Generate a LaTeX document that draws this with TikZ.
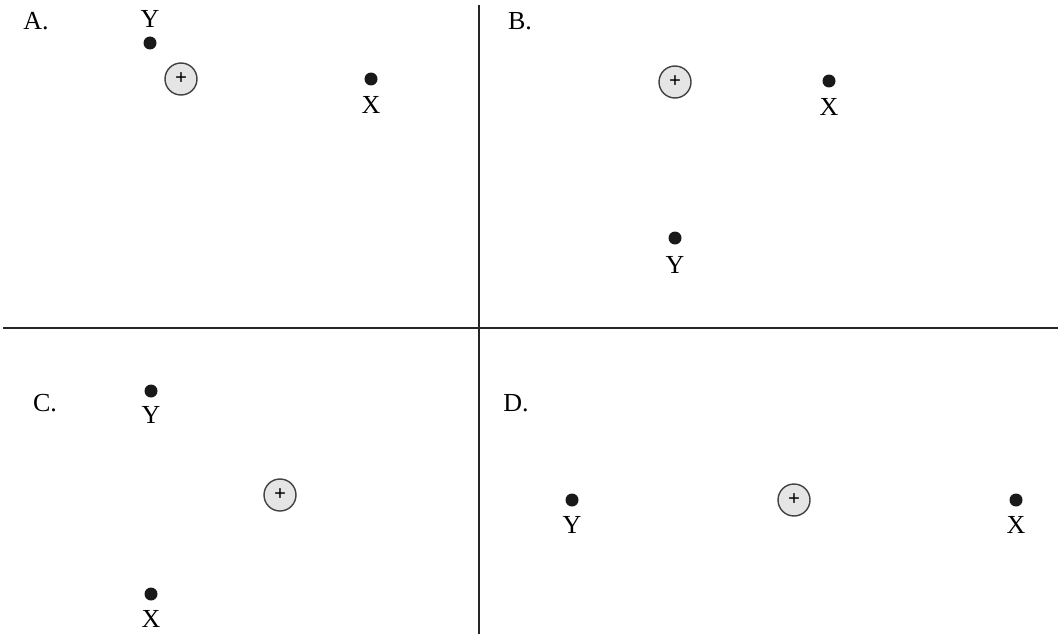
\documentclass[tikz,border=0pt]{standalone}
\usepackage{fontspec}
\setmainfont{Liberation Serif}
\begin{document}
\begin{tikzpicture}[x=1pt,y=-1pt,
  pt/.style={circle,fill=black!90,inner sep=0pt,minimum size=13pt},
  lbl/.style={font=\fontsize{26}{30}\selectfont,inner sep=0pt},
  charge/.style={circle,draw=black!75,line width=1.4pt,fill=black!10,minimum size=32pt,inner sep=0pt,font=\fontsize{21}{22}\selectfont\bfseries},
  divider/.style={line width=1.3pt,black!85}]
\useasboundingbox (0,0) rectangle (1058,634);
% dividers
\coordinate (vt) at (479,5);
\coordinate (vb) at (479,634);
\coordinate (hl) at (3,328);
\coordinate (hr) at (1058,328);
\draw[divider] (vt) -- (vb);
\draw[divider] (hl) -- (hr);
% A
\node[lbl] (Alab) at (36,21) {A.};
\node[pt] (Ay) at (150,43) {};
\node[lbl] (Ayl) at (150,19) {Y};
\node[charge] (Ac) at (181,79) {+};
\node[pt] (Ax) at (371,79) {};
\node[lbl] (Axl) at (371,105) {X};
% B
\node[lbl] (Blab) at (520,21) {B.};
\node[charge] (Bc) at (675,82) {+};
\node[pt] (Bx) at (829,81) {};
\node[lbl] (Bxl) at (829,107) {X};
\node[pt] (By) at (675,238) {};
\node[lbl] (Byl) at (675,265) {Y};
% C
\node[lbl] (Clab) at (45,403) {C.};
\node[pt] (Cy) at (151,391) {};
\node[lbl] (Cyl) at (151,415) {Y};
\node[charge] (Cc) at (280,495) {+};
\node[pt] (Cx) at (151,594) {};
\node[lbl] (Cxl) at (151,619) {X};
% D
\node[lbl] (Dlab) at (516,403) {D.};
\node[pt] (Dy) at (572,500) {};
\node[lbl] (Dyl) at (572,525) {Y};
\node[charge] (Dc) at (794,500) {+};
\node[pt] (Dx) at (1016,500) {};
\node[lbl] (Dxl) at (1016,525) {X};
\end{tikzpicture}
\end{document}
